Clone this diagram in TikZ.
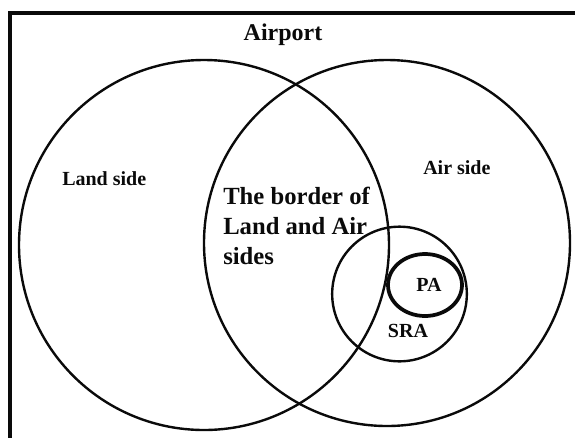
\documentclass[tikz,border=0pt]{standalone}
\usepackage{fontspec}
\setmainfont{Liberation Serif}
\usetikzlibrary{positioning,shapes.geometric}
\definecolor{ink}{HTML}{0A0A0A}
\tikzset{
  % --- regions
  zone/.style   = {circle, draw=ink, line width=1.8pt, inner sep=0pt},
  pazone/.style = {ellipse, draw=ink, line width=2.8pt, inner sep=0pt},
  frame/.style  = {draw=ink, line width=2.4pt},
  % --- labels
  lbl/.style    = {font=\fontsize{15}{18}\selectfont\bfseries, text=ink, inner sep=0pt},
  title/.style  = {lbl, font=\fontsize{18}{22}\selectfont\bfseries},
  border/.style = {lbl, font=\fontsize{18.5}{22.5}\selectfont\bfseries, align=left},
}
\begin{document}
\begin{tikzpicture}[x=0.75pt,y=-0.75pt]
  \useasboundingbox (0,0) rectangle (575,437);
  \clip (0,0) rectangle (575,437);
  \draw[frame] (10,13) rectangle (590,450);

  % circles of the diagram
  \node[zone, minimum size=277.5pt] (land) at (204,245) {};
  \node[zone, minimum size=274.5pt] (air) at (387,243) {};
  \node[zone, minimum size=101pt] (sra) at (399.5,294) {};
  \node[pazone, minimum width=55.5pt, minimum height=46.5pt] (pa) at (425,285) {};

  % labels
  \node[title, anchor=base] (airport) at (283,40) {Airport};
  \node[lbl, anchor=base west] (landlbl) at (62,185) {Land side};
  \node[lbl, anchor=base west] (airlbl) at (423,174) {Air side};
  \node[border, anchor=north west] (borderlbl) at (223,187) {The border of\\Land and Air\\sides};
  \node[lbl, anchor=base] (palbl) at (429,291) {PA};
  \node[lbl, anchor=base] (sralbl) at (408,337) {SRA};
\end{tikzpicture}
\end{document}
